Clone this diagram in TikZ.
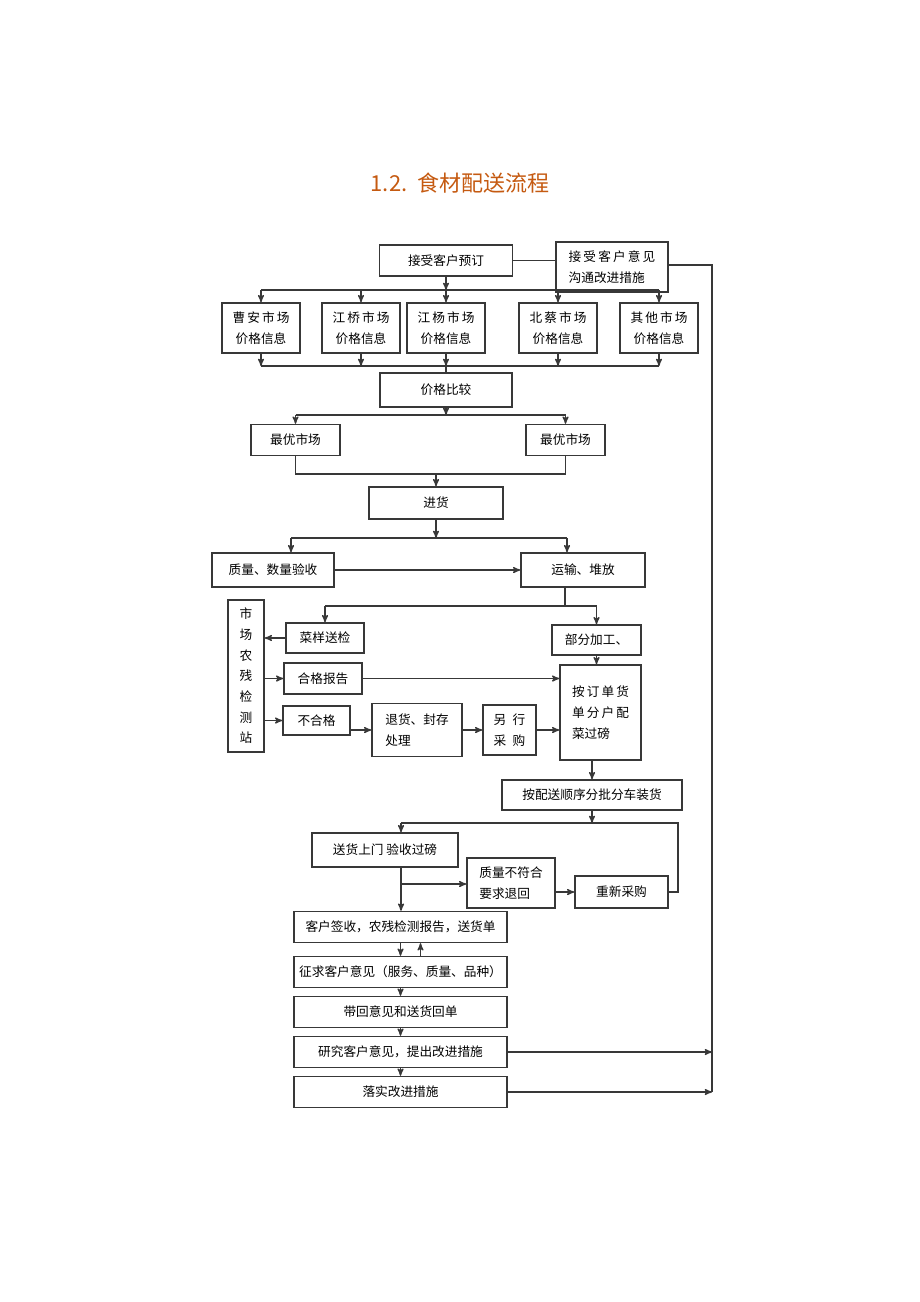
\documentclass[tikz,border=0pt]{standalone}
\usepackage{fontspec}
\setmainfont{Noto Sans CJK SC}
\usepackage{tikz}
\usetikzlibrary{arrows,positioning}
\definecolor{titel}{HTML}{C55A11}
\definecolor{strek}{gray}{0.22}
\tikzset{
    %Define standard arrow tip
    >=stealth',
    %Define style for boxes
    proc/.style={
           rectangle,
           draw=strek, line width=1pt,
           fill=white,
           inner sep=2pt,
           font=\fontsize{9.5}{15.5}\selectfont,
           align=center},
    % Define connector styles
    conn/.style={
           ->,
           draw=strek, line width=0.95pt},
    wire/.style={
           draw=strek, line width=0.95pt}
}
\begin{document}
\begin{tikzpicture}[x=0.75pt,y=-0.75pt]
\useasboundingbox (0,0) rectangle (920,1302);
 %title
\node[font=\fontsize{16.5}{18}\selectfont, text=titel] (title) at (460,183) {1.2.\ \ 食材配送流程};
 %nodes
\node[proc, minimum width=99.75pt, minimum height=23.25pt] (yuding) at (446,260.5) {接受客户预订};
\node[proc, minimum width=84pt, minimum height=37.5pt, align=left] (yijian) at (612,267) {接\,受\,客\,户\,意\,见\\沟通改进措施};
\node[proc, minimum width=58.5pt, minimum height=37.5pt] (caoan) at (261,328) {曹\,安\,市\,场\\价格信息};
\node[proc, minimum width=58.5pt, minimum height=37.5pt] (jiangqiao) at (361,328) {江\,桥\,市\,场\\价格信息};
\node[proc, minimum width=58.5pt, minimum height=37.5pt] (jiangyang) at (446,328) {江\,杨\,市\,场\\价格信息};
\node[proc, minimum width=58.5pt, minimum height=37.5pt] (beicai) at (558,328) {北\,蔡\,市\,场\\价格信息};
\node[proc, minimum width=58.5pt, minimum height=37.5pt] (qita) at (659,328) {其\,他\,市\,场\\价格信息};
\node[proc, minimum width=99pt, minimum height=25.5pt] (bijiao) at (446,390) {价格比较};
\node[proc, minimum width=66.75pt, minimum height=23.25pt] (zuiyou1) at (295.5,440) {最优市场};
\node[proc, minimum width=59.25pt, minimum height=23.25pt] (zuiyou2) at (565.5,440) {最优市场};
\node[proc, minimum width=100.5pt, minimum height=24pt] (jinhuo) at (436,503) {进货};
\node[proc, minimum width=91.5pt, minimum height=25.5pt] (zhiliang) at (273,570) {质量、数量验收};
\node[proc, minimum width=93pt, minimum height=25.5pt] (yunshu) at (583,570) {运输、堆放};
\node[proc, minimum width=27pt, minimum height=114pt] (zhan) at (246,676) {市\\场\\农\\残\\检\\测\\站};
\node[proc, minimum width=58.5pt, minimum height=22.5pt] (caiyang) at (325,638) {菜样送检};
\node[proc, minimum width=66.75pt, minimum height=22.5pt] (bufen) at (596.5,640) {部分加工、};
\node[proc, minimum width=58.5pt, minimum height=23.25pt] (hege) at (323,678.5) {合格报告};
\node[proc, minimum width=50.25pt, minimum height=21.75pt] (buhege) at (316.5,720.5) {不合格};
\node[proc, minimum width=67.5pt, minimum height=39.75pt, align=left] (tuihuo) at (417,730) {退货、封存\\处理};
\node[proc, minimum width=39.75pt, minimum height=37.5pt] (lingxing) at (509.5,730) {另\enspace 行\\采\enspace 购};
\node[proc, minimum width=60.75pt, minimum height=71.25pt, align=left] (andingdan) at (600.5,712.5) {按\,订\,单\,货\\单\,分\,户\,配\\菜过磅};
\node[proc, minimum width=135pt, minimum height=22.5pt] (anpeisong) at (592,795) {按配送顺序分批分车装货};
\node[proc, minimum width=109.5pt, minimum height=25.5pt] (songhuo) at (385,850) {送货上门\ 验收过磅};
\node[proc, minimum width=66pt, minimum height=37.5pt, align=left] (buhefu) at (511,883) {质量不符合\\要求退回};
\node[proc, minimum width=69.75pt, minimum height=24pt] (chongxin) at (621.5,892) {重新采购};
\node[proc, minimum width=159.75pt, minimum height=23.25pt] (kehu) at (400.5,927) {客户签收，农残检测报告，送货单};
\node[proc, minimum width=159.75pt, minimum height=23.25pt] (zhengqiu) at (400.5,972) {征求客户意见（服务、质量、品种）};
\node[proc, minimum width=159.75pt, minimum height=23.25pt] (daihui) at (400.5,1012) {带回意见和送货回单};
\node[proc, minimum width=159.75pt, minimum height=23.25pt] (yanjiu) at (400.5,1052) {研究客户意见，提出改进措施};
\node[proc, minimum width=159.75pt, minimum height=23.25pt] (luoshi) at (400.5,1092) {落实改进措施};
 %bus points
\coordinate (bus1) at (446,290);
\coordinate (bus2) at (446,366);
\coordinate (bus3) at (446,415);
\coordinate (bus4) at (436,474);
\coordinate (bus5) at (436,538);
\coordinate (z1) at (291,538);
\coordinate (z2) at (567,538);
\coordinate (bus6) at (565,606);
\coordinate (bus7) at (592,823);
\coordinate (s1) at (401,823);
\coordinate (s2) at (401,884);
\coordinate (r1) at (678,823);
\coordinate (rt) at (712,265);
 %connectors
\draw[wire] (yuding) -- (yuding -| yijian.west);
\draw[wire] (yijian.east |- rt) -- (rt) -- (rt |- luoshi);
\draw[conn] (yuding) -- (bus1);
\draw[wire] (caoan |- bus1) -- (qita |- bus1);
\draw[wire] (caoan |- bus2) -- (qita |- bus2);
\foreach \m in {caoan,jiangqiao,jiangyang,beicai,qita}{
  \draw[conn] (\m |- bus1) -- (\m.north);
  \draw[conn] (\m.south) -- (\m |- bus2);
}
\draw[wire] (bus2) -- (bijiao);
\draw[conn] (bijiao) -- (bus3);
\draw[wire] (zuiyou1 |- bus3) -- (zuiyou2 |- bus3);
\draw[conn] (zuiyou1 |- bus3) -- (zuiyou1.north);
\draw[conn] (zuiyou2 |- bus3) -- (zuiyou2.north);
\draw[wire] (zuiyou1.south) -- (zuiyou1 |- bus4) -- (zuiyou2 |- bus4) -- (zuiyou2.south);
\draw[conn] (bus4) -- (jinhuo);
\draw[conn] (jinhuo) -- (bus5);
\draw[wire] (z1) -- (z2);
\draw[conn] (z1) -- (z1 |- zhiliang.north);
\draw[conn] (z2) -- (z2 |- yunshu.north);
\draw[conn] (zhiliang) -- (yunshu);
\draw[wire] (bus6 |- yunshu.south) -- (bus6);
\draw[wire] (caiyang |- bus6) -- (bufen |- bus6);
\draw[conn] (caiyang |- bus6) -- (caiyang.north);
\draw[conn] (bufen |- bus6) -- (bufen.north);
\draw[conn] (caiyang) -- (caiyang -| zhan.east);
\draw[conn] (zhan.east |- hege) -- (hege);
\draw[conn] (zhan.east |- buhege) -- (buhege);
\draw[conn] (tuihuo.west -| buhege.east) -- (tuihuo.west);
\draw[conn] (tuihuo) -- (lingxing);
\draw[conn] (lingxing) -- (lingxing -| andingdan.west);
\draw[conn] (hege) -- (hege -| andingdan.west);
\draw[conn] (bufen) -- (bufen |- andingdan.north);
\draw[conn] (anpeisong |- andingdan.south) -- (anpeisong.north);
\draw[conn] (anpeisong) -- (bus7);
\draw[wire] (s1) -- (r1) |- (chongxin.east);
\draw[conn] (s1) -- (s1 |- songhuo.north);
\draw[conn] (s1 |- songhuo.south) -- (s1 |- kehu.north);
\draw[conn] (s2) -- (s2 -| buhefu.west);
\draw[conn] (chongxin -| buhefu.east) -- (chongxin.west);
\draw[conn] (kehu) -- (zhengqiu);
\draw[conn] ([xshift=15pt]zhengqiu.north) -- ([xshift=15pt]kehu.south);
\draw[conn] (zhengqiu) -- (daihui);
\draw[conn] (daihui) -- (yanjiu);
\draw[conn] (yanjiu) -- (luoshi);
\draw[conn] (yanjiu) -- (yanjiu -| rt);
\draw[conn] (luoshi) -- (luoshi -| rt);
\end{tikzpicture}
\end{document}
